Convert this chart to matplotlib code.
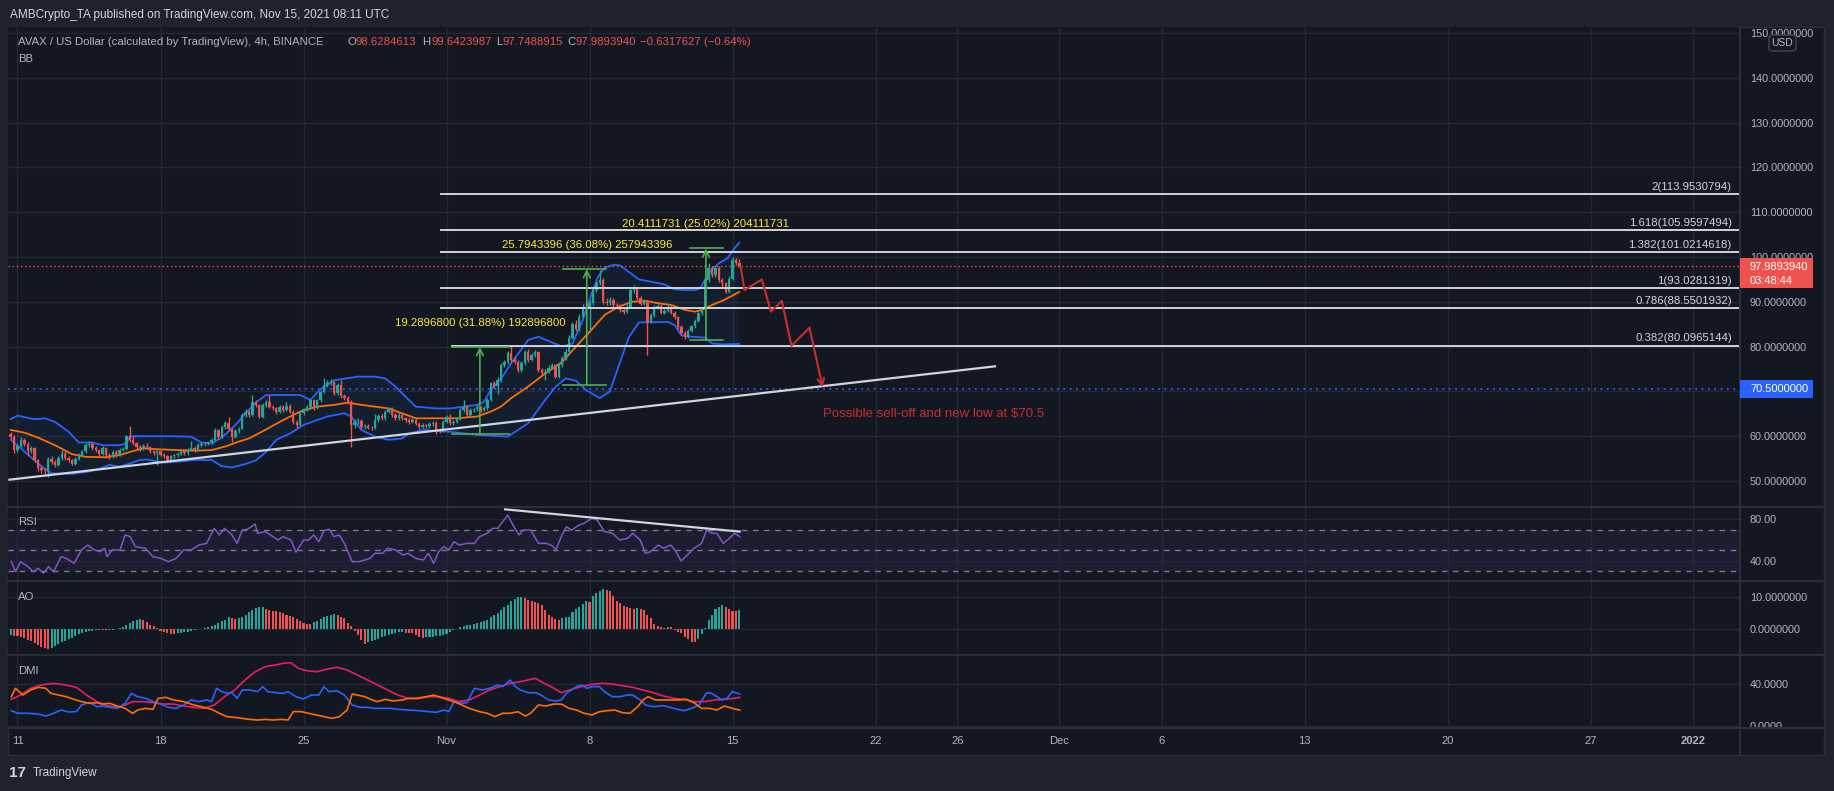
import matplotlib
matplotlib.use('Agg')
import matplotlib.pyplot as plt
import matplotlib.dates as mdates
from matplotlib.patches import Rectangle, FancyBboxPatch
from matplotlib.lines import Line2D
import numpy as np
import pandas as pd

plt.rcParams['font.family'] = ['Liberation Sans', 'DejaVu Sans']

W, H = 1834, 791
BG = '#131722'
FRAME = '#1e222d'
GRID = '#242833'
SEP = '#2a2e39'
TXT = '#b2b5be'
UP = '#26a69a'
DN = '#ef5350'

# AVAX / USD 4h candles, first bar opens 2021-10-10 16:00 UTC (open = previous close)
first_bar = '2021-10-10 16:00'
first_open = 60.5
close = [59.9, 57.0, 57.8, 59.2, 58.3, 56.6, 57.3, 54.7, 52.8, 52.5,
         52.2, 55.0, 54.3, 53.6, 55.1, 56.1, 55.2, 54.6, 53.9, 54.9,
         55.9, 56.6, 58.0, 58.3, 57.4, 56.9, 56.0, 57.3, 55.8, 55.4,
         56.5, 55.8, 56.9, 57.2, 60.0, 59.2, 58.4, 57.6, 57.2, 57.9,
         57.5, 56.6, 56.2, 56.6, 55.9, 55.5, 54.7, 55.5, 55.7, 56.1,
         56.6, 56.2, 57.0, 57.3, 56.9, 58.0, 58.2, 58.3, 58.6, 59.1,
         61.4, 59.8, 62.0, 62.9, 61.5, 59.9, 61.2, 61.7, 64.7, 65.5,
         64.8, 67.7, 67.0, 64.4, 66.9, 67.6, 66.6, 66.2, 65.5, 66.5,
         65.9, 66.8, 65.5, 63.2, 62.5, 65.1, 66.0, 66.6, 68.0, 66.3,
         68.0, 69.9, 71.4, 71.9, 72.0, 69.6, 71.5, 69.0, 68.5, 67.7,
         62.5, 63.2, 63.5, 62.0, 62.3, 61.9, 61.8, 63.6, 64.5, 64.0,
         65.5, 66.2, 64.8, 64.0, 64.8, 64.0, 63.6, 63.2, 63.6, 62.8,
         62.1, 62.5, 62.2, 62.7, 63.0, 61.4, 61.2, 63.2, 64.4, 62.9,
         63.2, 64.0, 65.8, 66.6, 64.8, 65.8, 66.0, 66.5, 65.9, 66.2,
         68.1, 71.8, 71.1, 72.5, 75.9, 76.6, 78.5, 77.0, 76.6, 74.8,
         76.3, 78.8, 77.0, 78.1, 78.8, 74.8, 74.2, 74.4, 75.3, 75.8,
         73.3, 75.9, 77.4, 78.9, 82.0, 85.0, 83.9, 86.7, 88.9, 88.5,
         89.7, 92.6, 94.1, 94.9, 90.0, 89.7, 90.5, 89.3, 89.0, 88.2,
         87.8, 88.9, 92.6, 93.0, 90.8, 89.6, 90.1, 85.6, 87.0, 88.9,
         89.0, 87.6, 88.0, 88.9, 87.6, 86.5, 84.4, 83.0, 82.2, 83.5,
         84.5, 85.8, 87.4, 88.5, 94.9, 97.5, 96.0, 97.5, 94.9, 94.1,
         92.3, 95.2, 99.3, 98.6284613, 97.989394]
high = [61.0, 60.3, 58.3, 59.9, 59.6, 58.6, 57.9, 57.5, 55.0, 53.4,
        53.0, 55.4, 55.5, 54.8, 55.6, 56.9, 56.8, 55.6, 55.0, 55.3,
        56.3, 57.0, 58.4, 59.0, 58.7, 57.8, 57.2, 57.8, 57.6, 56.3,
        57.0, 56.9, 57.3, 57.6, 60.3, 62.2, 60.0, 58.8, 58.0, 58.3,
        58.4, 57.8, 57.0, 57.0, 56.9, 56.3, 55.8, 55.9, 56.1, 56.5,
        57.0, 57.0, 57.4, 58.9, 57.8, 58.4, 58.6, 58.7, 59.0, 59.5,
        61.8, 61.7, 62.4, 63.4, 64.3, 61.8, 61.6, 62.1, 65.2, 66.0,
        65.9, 69.3, 68.0, 67.3, 67.4, 68.1, 69.2, 67.0, 66.6, 66.9,
        66.9, 67.7, 67.1, 65.8, 63.6, 65.5, 66.4, 67.0, 68.4, 68.3,
        68.4, 70.3, 73.1, 72.6, 72.8, 72.4, 71.9, 72.5, 69.4, 68.9,
        68.0, 63.8, 64.1, 63.8, 62.8, 62.7, 62.3, 64.9, 64.9, 64.9,
        65.9, 66.6, 66.5, 65.2, 65.3, 65.1, 64.4, 64.0, 64.0, 64.0,
        63.1, 62.9, 62.8, 63.1, 63.4, 63.3, 61.8, 63.6, 64.8, 64.9,
        63.6, 64.4, 66.2, 68.0, 67.0, 66.2, 66.4, 66.9, 66.8, 66.7,
        68.5, 72.2, 72.3, 73.3, 76.3, 77.1, 79.0, 80.1, 77.6, 77.0,
        76.8, 79.3, 79.5, 78.6, 79.2, 79.1, 75.3, 74.9, 75.8, 76.3,
        76.1, 76.3, 77.9, 79.4, 82.5, 85.5, 85.9, 87.3, 89.5, 89.9,
        90.4, 93.2, 94.7, 97.1, 95.3, 90.9, 91.0, 90.9, 89.8, 89.4,
        88.7, 89.4, 93.1, 93.8, 93.3, 91.2, 90.6, 90.4, 87.5, 89.3,
        89.6, 89.4, 88.5, 89.4, 89.2, 88.0, 86.9, 84.8, 83.4, 83.9,
        84.9, 86.2, 87.8, 88.9, 95.4, 98.6, 97.9, 98.0, 97.9, 95.3,
        94.5, 95.7, 100.1, 99.8, 99.6423987]
low = [59.4, 56.2, 56.5, 57.5, 57.9, 55.8, 56.3, 54.3, 52.2, 51.8,
       51.6, 51.0, 53.8, 53.2, 53.3, 54.8, 54.7, 54.2, 53.5, 53.6,
       54.6, 55.6, 56.3, 57.7, 57.0, 56.4, 55.6, 55.7, 55.2, 54.9,
       55.1, 55.4, 55.5, 56.6, 57.0, 58.8, 58.0, 57.2, 56.8, 56.9,
       57.1, 56.2, 55.8, 53.6, 55.5, 55.1, 54.3, 54.4, 55.2, 55.4,
       55.8, 55.9, 55.9, 56.7, 56.5, 56.6, 57.6, 57.9, 58.0, 58.3,
       58.9, 59.4, 59.6, 61.7, 61.1, 58.8, 59.5, 60.8, 61.5, 64.3,
       64.3, 64.5, 66.6, 64.0, 64.1, 66.5, 66.2, 65.8, 65.0, 65.1,
       65.5, 65.6, 65.1, 62.8, 61.9, 62.2, 64.8, 65.7, 66.3, 65.9,
       66.0, 67.7, 69.6, 71.0, 71.5, 69.2, 69.3, 68.6, 68.0, 67.2,
       57.7, 61.9, 62.8, 61.6, 61.7, 61.5, 61.3, 61.5, 63.2, 63.6,
       63.7, 65.1, 64.4, 63.6, 63.7, 63.6, 63.2, 62.8, 62.9, 62.4,
       61.7, 61.8, 61.9, 61.9, 62.3, 60.6, 60.8, 60.9, 62.9, 62.5,
       62.5, 62.9, 63.7, 65.4, 64.4, 64.5, 65.4, 65.7, 65.5, 65.6,
       65.9, 67.8, 70.7, 69.5, 72.2, 75.5, 76.2, 76.6, 76.1, 74.3,
       74.4, 76.0, 76.6, 76.7, 77.7, 74.4, 73.7, 72.5, 74.0, 74.9,
       72.9, 73.0, 75.5, 77.0, 78.6, 81.7, 83.4, 83.5, 86.3, 88.0,
       83.7, 89.3, 92.2, 93.7, 89.6, 89.2, 89.3, 88.9, 88.5, 87.8,
       87.3, 87.5, 88.6, 92.0, 90.4, 89.2, 89.2, 78.1, 85.2, 86.7,
       88.4, 87.2, 87.2, 87.7, 87.2, 86.1, 84.0, 82.5, 81.8, 81.9,
       83.2, 84.2, 85.5, 87.1, 88.2, 94.5, 95.6, 95.6, 94.5, 93.0,
       91.9, 92.0, 94.9, 98.2, 97.7488915]
last_ohlc = [98.6284613, 99.6423987, 97.7488915, 97.9893940]
change, change_pct = -0.6317627, -0.64
countdown = '03:48:44'

# Bollinger bands (bar index, value)
bb_up_bar = [0, 2, 7, 10, 13, 17, 20, 24, 27, 32, 34, 35, 38, 47, 53, 56, 59, 62, 66, 69,
             72, 75, 85, 88, 91, 95, 102, 107, 110, 113, 116, 119, 125, 129, 133, 137, 139, 141, 144, 147,
             152, 155, 162, 165, 168, 171, 172.5, 174.5, 177.5, 179, 181.5, 184.5, 188, 192, 195, 198, 201, 202.5, 205, 208,
             210.5, 212.5, 214]
bb_up = [63.8, 64.6, 63.8, 64.0, 63.2, 61.0, 58.6, 58.6, 58.0, 58.0, 58.4, 60.0, 60.0, 60.0, 59.9, 58.6, 58.4, 59.7, 62.5, 65.1,
         67.5, 69.2, 69.2, 68.1, 70.5, 72.5, 73.3, 73.3, 72.9, 71.1, 68.8, 66.6, 66.2, 66.2, 66.6, 67.0, 67.7, 70.3, 72.8, 76.3,
         81.5, 82.2, 80.0, 80.7, 85.9, 92.6, 95.6, 97.7, 98.3, 98.1, 96.7, 95.0, 94.5, 93.9, 92.8, 92.6, 92.6, 93.0, 96.4, 98.6,
         99.7, 101.9, 103.2]
bb_lo_bar = [0, 3, 8, 12, 18, 23, 27, 29, 32, 35, 38, 40, 42, 45, 49, 54, 59, 62, 65, 69,
             72, 75, 78, 82, 86, 90, 93, 98, 100, 103, 107, 111, 115, 117, 121, 129, 137, 146, 152, 157,
             160, 163, 166, 169, 173, 176, 178.5, 181.5, 184.5, 193, 195, 197, 200, 204, 206, 209, 214]
bb_lo = [59.2, 57.3, 53.9, 51.7, 51.6, 52.1, 53.0, 53.6, 53.2, 53.9, 54.7, 54.8, 54.5, 54.1, 54.3, 54.7, 54.7, 53.3, 53.0, 53.8,
         54.6, 56.5, 59.2, 60.6, 62.5, 63.6, 64.4, 65.1, 64.4, 61.4, 59.9, 59.2, 59.5, 60.6, 61.4, 61.0, 60.3, 59.9, 62.9, 68.1,
         71.0, 72.9, 72.4, 70.3, 68.5, 70.0, 75.5, 82.0, 85.4, 85.5, 84.8, 82.5, 82.2, 82.0, 80.7, 80.5, 80.6]
bb_mid_bar = [0, 4, 8, 13, 18, 22, 28, 32, 36, 39, 43, 49, 55, 59, 63, 67, 70, 72, 75, 80,
              85, 90, 95, 99, 103, 107, 111, 115, 119, 125, 131, 137, 141, 144, 147, 152, 157, 162, 166.5, 170.5,
              174.5, 178.5, 182.5, 186.5, 190, 194, 198, 201, 203, 206, 209.5, 214]
bb_mid = [61.4, 60.8, 59.7, 58.0, 56.0, 55.4, 55.3, 55.8, 56.7, 57.3, 57.1, 56.9, 56.8, 56.9, 57.7, 58.8, 59.5, 60.3, 61.5, 63.6,
          65.5, 66.6, 67.0, 67.5, 67.0, 66.6, 66.2, 65.1, 64.0, 64.0, 64.0, 64.4, 65.5, 66.6, 68.5, 71.1, 74.0, 76.6, 80.4, 83.7,
          87.1, 88.9, 90.0, 90.2, 89.7, 89.3, 88.2, 87.8, 88.2, 89.3, 90.4, 92.2]

# Fibonacci extension levels
fib_ratio = ['2', '1.618', '1.382', '1', '0.786', '0.382']
fib_price = [113.9530794, 105.9597494, 101.0214618, 93.0281319, 88.5501932, 80.0965144]
fib_start = [126.4, 126.4, 126.4, 126.4, 126.4, 129.5]

# price range measurements
meas_bar = [137.8, 169.2, 204.2]
meas_left = [129.5, 162.2, 199.5]
meas_right = [146.3, 174.8, 209.2]
meas_low = [60.6, 71.5, 81.5]
meas_change = [19.28968, 25.7943396, 20.4111731]
meas_pct = [31.88, 36.08, 25.02]
meas_label_y = [85.3, 102.7, 107.3]

# drawn projection
proj_bar = [214.4, 215.5, 220.6, 223.3, 226.5, 229.3, 234.6, 238.5]
proj_price = [97.8, 92.6, 95.0, 87.8, 90.2, 80.2, 84.2, 70.9]
support = 70.5
trend_bar = [-0.35, 289.1]
trend_price = [50.3, 75.6]

# RSI
rsi_bar = [0.2, 1.4, 2.9, 5.1, 6.6, 8.1, 9.6, 11.1, 12.6, 14.8,
           16.3, 18.6, 20.8, 22.6, 24.6, 26.1, 27.6, 28.3, 29.8, 32.1,
           33.6, 35.1, 36.6, 39.6, 41.8, 44.1, 46.3, 48.6, 50.8, 53.0,
           55.3, 57.5, 59.8, 61.3, 62.8, 65.0, 66.5, 68.0, 69.5, 71.8,
           72.5, 74.8, 78.5, 80.0, 82.3, 83.8, 86.0, 87.5, 89.0, 90.5,
           92.0, 93.5, 95.0, 96.5, 98.0, 100.3, 102.5, 104.0, 105.5, 107.0,
           109.2, 110.7, 113.0, 115.2, 116.7, 119.0, 121.2, 122.7, 124.2, 125.7,
           127.2, 128.7, 130.2, 131.7, 134.0, 136.2, 137.7, 140.0, 141.5, 143.0,
           144.5, 146.0, 147.5, 149.3, 150.5, 152.7, 155.0, 157.2, 158.7, 160.2,
           161.7, 163.2, 164.7, 167.0, 168.4, 170.7, 172.2, 174.4, 176.7, 178.9,
           181.2, 182.7, 184.9, 186.4, 187.9, 190.2, 191.7, 193.9, 195.4, 196.9,
           199.2, 200.7, 202.9, 204.4, 205.9, 207.4, 209.3, 211.1, 212.6, 214.1]
rsi_val = [39.4, 29.8, 39.4, 34.6, 29.8, 33.0, 28.3, 34.6, 29.8, 44.1,
           42.5, 37.8, 50.5, 55.2, 50.5, 48.9, 52.1, 44.1, 50.5, 50.5,
           64.8, 63.2, 53.7, 52.1, 44.1, 42.5, 39.4, 42.5, 50.5, 50.5,
           55.2, 56.8, 71.1, 64.8, 71.1, 64.8, 56.8, 69.5, 70.2, 75.2,
           66.4, 68.0, 60.0, 63.2, 60.0, 48.3, 60.0, 60.0, 64.8, 58.4,
           68.9, 70.2, 63.2, 64.8, 56.8, 39.4, 39.4, 41.0, 42.5, 47.3,
           47.3, 52.1, 50.5, 45.7, 47.3, 42.5, 41.0, 47.3, 37.8, 48.9,
           53.7, 50.5, 58.4, 55.2, 56.8, 56.8, 63.2, 66.4, 71.1, 71.1,
           77.5, 83.8, 74.3, 64.8, 69.5, 69.5, 56.8, 56.8, 55.2, 51.1,
           63.2, 72.7, 69.5, 74.3, 75.9, 80.6, 79.1, 68.0, 66.4, 60.0,
           61.6, 66.4, 60.0, 47.3, 48.9, 55.2, 52.1, 55.2, 48.9, 40.0,
           47.3, 52.1, 56.8, 69.5, 66.4, 66.4, 56.8, 61.6, 66.4, 63.2]
rsi_trend_bar = [145.2, 214.1]
rsi_trend_val = [89.2, 68.0]

# Awesome Oscillator, one value per candle
ao = [-1.9, -2.1, -2.3, -2.5, -2.9, -3.3, -3.6, -4.3, -5.0, -5.6,
      -5.9, -6.1, -5.8, -5.3, -4.8, -4.2, -3.7, -3.2, -2.7, -2.2,
      -1.7, -1.3, -1.0, -0.7, -0.5, -0.4, -0.3, -0.35, -0.4, -0.3,
      -0.2, 0.0, 0.2, 0.6, 1.2, 1.8, 2.4, 2.8, 3.0, 2.8,
      2.3, 1.4, 0.9, 0.2, -0.5, -1.0, -1.3, -1.5, -1.6, -1.4,
      -1.2, -1.0, -0.8, -0.6, -0.4, -0.1, 0.1, 0.3, 0.6, 1.0,
      1.4, 1.9, 2.4, 2.9, 3.6, 3.4, 3.2, 3.5, 3.7, 4.4,
      5.2, 5.9, 6.6, 6.8, 6.9, 6.3, 6.0, 5.7, 5.5, 5.2,
      4.9, 4.5, 4.1, 3.7, 3.1, 2.4, 1.9, 1.7, 1.6, 2.1,
      2.6, 3.1, 3.6, 4.0, 4.4, 4.7, 4.4, 3.9, 3.3, 2.0,
      0.8, -0.5, -2.0, -3.4, -4.7, -4.1, -3.7, -3.4, -3.0, -2.5,
      -2.2, -1.9, -1.6, -1.3, -1.0, -0.85, -1.1, -1.2, -1.4, -2.0,
      -2.4, -2.7, -2.6, -2.5, -2.4, -2.3, -2.1, -1.9, -1.5, -1.0,
      -0.4, 0.0, 0.5, 0.9, 1.2, 1.4, 1.6, 1.8, 2.1, 2.5,
      2.8, 3.6, 4.4, 4.9, 6.0, 6.9, 7.5, 8.6, 9.4, 9.9,
      10.0, 9.6, 9.1, 8.7, 8.4, 8.0, 7.4, 6.0, 4.4, 3.6,
      3.1, 2.8, 3.3, 3.6, 3.9, 5.4, 6.3, 7.0, 7.8, 8.6,
      8.4, 10.3, 11.3, 11.9, 12.4, 12.3, 11.9, 10.3, 8.9, 8.2,
      7.2, 6.8, 6.5, 6.4, 6.45, 6.4, 6.0, 4.5, 3.3, 1.5,
      0.9, 0.7, 0.4, 0.7, 0.5, -0.2, -0.9, -1.4, -2.4, -3.2,
      -4.0, -4.2, -3.1, -1.5, 0.2, 2.7, 4.4, 6.4, 7.0, 7.4,
      6.9, 6.2, 5.7, 5.6, 5.9]

# DMI
adx_bar = [0.2, 2.9, 5.9, 8.9, 12.6, 16.3, 19.3, 22.3, 25.3, 28.3,
           31.3, 33.6, 35.8, 38.8, 41.8, 44.8, 47.8, 50.8, 53.8, 56.8,
           59.8, 62.8, 65.8, 68.8, 71.8, 74.8, 77.8, 80.0, 82.3, 84.5,
           86.8, 89.8, 92.8, 95.8, 98.8, 101.8, 104.8, 107.8, 110.7, 113.7,
           116.7, 119.7, 122.7, 125.7, 128.7, 131.7, 134.7, 137.7, 140.7, 143.7,
           146.7, 149.7, 152.7, 154.2, 155.7, 158.7, 161.7, 164.7, 167.7, 170.7,
           173.7, 176.7, 179.7, 182.7, 185.7, 188.7, 191.7, 194.7, 197.7, 200.7,
           203.7, 206.7, 209.6, 212.6, 214.1]
adx = [25.4, 29.5, 35.9, 39.0, 40.6, 39.0, 36.8, 29.5, 23.2, 19.4,
       17.8, 20.0, 23.2, 23.2, 22.2, 20.9, 20.9, 19.0, 17.8, 16.8,
       20.0, 27.9, 34.3, 43.8, 51.7, 56.5, 58.1, 59.7, 60.3, 54.9,
       52.7, 51.7, 54.0, 55.9, 53.3, 48.6, 43.8, 39.0, 34.3, 29.5,
       26.3, 26.0, 27.9, 27.9, 26.3, 23.2, 24.8, 29.5, 34.3, 37.5,
       40.6, 42.2, 44.4, 45.4, 42.2, 37.5, 31.7, 34.9, 37.5, 39.7,
       40.6, 40.0, 38.4, 36.8, 34.3, 31.7, 28.6, 26.3, 25.4, 23.2,
       23.2, 24.8, 25.4, 26.3, 27.3]
pdi_bar = [0.2, 2.1, 5.1, 8.1, 10.3, 12.6, 14.8, 17.1, 19.3, 20.8,
           23.1, 25.3, 26.8, 29.1, 31.3, 33.6, 35.5, 37.3, 39.6, 41.8,
           44.1, 46.3, 48.6, 50.8, 53.0, 55.3, 57.5, 59.0, 60.5, 62.0,
           63.5, 65.0, 66.5, 68.0, 70.3, 72.5, 74.0, 75.5, 77.8, 80.0,
           81.5, 83.8, 86.0, 88.3, 90.5, 92.0, 93.5, 95.8, 98.0, 100.3,
           102.5, 104.8, 107.0, 109.2, 111.5, 113.7, 116.7, 119.7, 122.7, 125.0,
           127.2, 128.7, 130.2, 132.5, 134.0, 136.2, 138.5, 140.7, 143.0, 144.5,
           146.7, 148.2, 149.7, 152.0, 154.2, 155.7, 158.0, 160.2, 161.7, 163.2,
           164.7, 166.2, 167.7, 169.2, 170.7, 172.9, 174.4, 176.7, 178.9, 181.2,
           182.7, 184.9, 186.4, 188.7, 191.7, 194.7, 197.7, 199.9, 202.2, 204.4,
           205.9, 207.4, 208.9, 210.4, 211.9, 214.1]
pdi = [14.6, 12.1, 12.1, 11.4, 9.5, 12.1, 15.2, 13.3, 13.7, 20.0,
       22.5, 18.4, 19.0, 17.8, 16.8, 21.6, 31.1, 27.9, 26.3, 23.2,
       20.9, 17.8, 16.8, 20.0, 24.8, 23.2, 24.8, 23.2, 35.9, 32.7,
       31.1, 31.7, 26.3, 34.3, 34.3, 32.7, 37.5, 32.7, 31.7, 31.1,
       32.7, 27.9, 25.7, 29.5, 29.5, 37.5, 32.7, 33.6, 29.5, 20.0,
       17.8, 17.8, 16.8, 16.8, 16.8, 15.9, 15.2, 14.6, 13.7, 13.0,
       15.2, 13.7, 23.2, 21.6, 22.2, 35.9, 34.3, 35.9, 39.0, 37.5,
       43.8, 37.5, 34.3, 31.7, 31.7, 29.5, 24.8, 23.8, 24.8, 31.1,
       34.3, 37.5, 39.0, 35.9, 37.5, 37.5, 32.7, 27.9, 27.9, 29.5,
       29.5, 24.8, 20.0, 18.4, 19.4, 16.8, 14.6, 16.8, 20.0, 31.7,
       31.1, 27.9, 24.8, 26.3, 32.7, 30.5]
mdi_bar = [0.2, 1.4, 3.6, 5.9, 8.1, 10.3, 11.8, 14.1, 16.3, 18.6,
           20.8, 23.1, 25.3, 26.8, 29.1, 31.3, 33.6, 35.8, 37.3, 39.6,
           41.8, 43.3, 45.6, 47.8, 50.8, 53.8, 56.8, 59.0, 61.3, 63.5,
           65.8, 68.0, 70.3, 72.5, 74.8, 77.0, 79.3, 81.5, 83.0, 85.3,
           87.5, 89.8, 92.0, 94.3, 96.5, 98.8, 100.3, 101.8, 104.0, 106.2,
           107.7, 110.0, 112.2, 115.2, 116.7, 119.0, 122.0, 124.2, 125.7, 128.0,
           130.2, 132.5, 134.7, 137.7, 140.0, 142.2, 144.5, 146.7, 149.0, 151.2,
           152.7, 155.0, 157.2, 159.5, 161.7, 164.0, 166.2, 168.4, 170.7, 172.9,
           175.2, 177.4, 179.7, 181.9, 184.2, 185.7, 187.2, 189.4, 191.7, 193.9,
           196.2, 198.4, 200.7, 202.9, 205.2, 207.4, 209.6, 211.9, 214.1]
mdi = [27.9, 35.9, 29.5, 34.3, 36.8, 35.9, 31.1, 29.5, 27.9, 25.4,
       23.2, 21.6, 22.2, 20.9, 21.6, 19.0, 16.8, 12.1, 15.2, 16.8,
       15.9, 26.3, 27.3, 24.8, 23.2, 20.0, 17.8, 15.9, 12.1, 8.9,
       8.2, 7.3, 6.3, 5.7, 6.3, 5.7, 6.3, 5.7, 13.7, 13.7,
       12.1, 10.5, 8.9, 7.3, 8.9, 15.2, 30.5, 29.5, 27.9, 24.8,
       23.2, 25.4, 23.8, 24.8, 26.3, 26.3, 27.9, 29.5, 27.9, 25.4,
       23.2, 20.0, 16.8, 13.6, 12.1, 8.9, 12.1, 12.1, 13.6, 9.5,
       12.1, 20.0, 19.0, 20.9, 20.9, 16.8, 15.2, 12.1, 10.5, 13.6,
       14.6, 15.2, 12.7, 12.1, 18.4, 24.8, 27.9, 24.8, 24.8, 24.8,
       24.8, 25.4, 22.2, 16.8, 16.8, 15.2, 19.0, 16.8, 15.2]

tick_days = ['2021-10-11', '2021-10-18', '2021-10-25', '2021-11-01', '2021-11-08', '2021-11-15',
             '2021-11-22', '2021-11-26', '2021-12-01', '2021-12-06', '2021-12-13', '2021-12-20',
             '2021-12-27', '2022-01-01']
tick_labels = ['11', '18', '25', 'Nov', '8', '15', '22', '26', 'Dec', '6', '13', '20', '27', '2022']

# ---------------------------------------------------------------------------
t0 = mdates.date2num(pd.Timestamp(first_bar).to_pydatetime())


def bx(b):
    # bar index -> matplotlib date number (4h bars)
    return t0 + np.asarray(b, dtype=float) / 6.0


def box(x0, y0, x1, y1):
    return [x0 / W, 1 - y1 / H, (x1 - x0) / W, (y1 - y0) / H]


fig = plt.figure(figsize=(W / 100, H / 100), dpi=100, facecolor=FRAME)


def ftext(x, y, s, **kw):
    kw.setdefault('va', 'center')
    kw.setdefault('color', TXT)
    kw.setdefault('fontsize', 8.2)
    fig.text(x / W, 1 - y / H, s, **kw)


def frect(x0, y0, x1, y1, **kw):
    fig.add_artist(Rectangle((x0 / W, 1 - y1 / H), (x1 - x0) / W, (y1 - y0) / H,
                             transform=fig.transFigure, **kw))


def fline(xs, ys, **kw):
    fig.add_artist(Line2D([x / W for x in xs], [1 - y / H for y in ys],
                          transform=fig.transFigure, **kw))


# chart panel background
frect(8, 27, 1824, 755, facecolor=BG, edgecolor=SEP, lw=1, zorder=-5)

ax = fig.add_axes(box(8, 27, 1740, 507))
ax_rsi = fig.add_axes(box(8, 507, 1740, 581), sharex=ax)
ax_ao = fig.add_axes(box(8, 581, 1740, 655), sharex=ax)
ax_dmi = fig.add_axes(box(8, 655, 1740, 728), sharex=ax)

ticks_x = mdates.date2num(pd.to_datetime(tick_days).to_pydatetime())
for a in (ax, ax_rsi, ax_ao, ax_dmi):
    a.set_facecolor(BG)
    for s in a.spines.values():
        s.set_visible(False)
    a.yaxis.tick_right()
    a.tick_params(axis='y', length=0, pad=7, labelsize=7.8, labelcolor=TXT)
    a.tick_params(axis='x', length=0, labelbottom=False)
    a.set_xticks(ticks_x)
    a.grid(True, color=GRID, lw=1, zorder=0)
    a.set_axisbelow(True)

ax.set_xlim(bx(-0.79), bx(507.9))

# ---- price pane ----
ax.set_ylim(44.2, 151.34)
pt = np.arange(50, 151, 10)
ax.set_yticks(pt)
ax.set_yticklabels([f'{v:.7f}' for v in pt])

xb = bx(np.arange(len(close)))
c = np.array(close)
o = np.r_[first_open, c[:-1]]
hi = np.maximum(np.array(high), np.maximum(o, c))
lo = np.minimum(np.array(low), np.minimum(o, c))
col = np.where(c >= o, UP, DN)

# Bollinger bands
ax.fill(np.r_[bx(bb_up_bar), bx(bb_lo_bar)[::-1]], np.r_[bb_up, bb_lo[::-1]],
        color='#2196f3', alpha=0.06, lw=0, zorder=1)
ax.plot(bx(bb_up_bar), bb_up, color='#2962ff', lw=1.3, zorder=2)
ax.plot(bx(bb_lo_bar), bb_lo, color='#2962ff', lw=1.3, zorder=2)
ax.plot(bx(bb_mid_bar), bb_mid, color='#ff6d00', lw=1.3, zorder=2)

ax.vlines(xb, lo, hi, colors=col, lw=1, zorder=3)
ax.bar(xb, np.maximum(np.abs(c - o), 0.1), bottom=np.minimum(o, c), width=0.7 / 6,
       color=col, lw=0, zorder=3.5)

# horizontal price markers
ax.axhline(last_ohlc[3], color=DN, ls=(0, (1, 2)), lw=1, zorder=2.5)
ax.axhline(support, color='#2962ff', ls=(0, (1, 2.5)), lw=1.3, zorder=2.5)

# trend line
ax.plot(bx(trend_bar), trend_price, color='#d1d4dc', lw=1.6, zorder=4)

# fib extension
for r, p, s in zip(fib_ratio, fib_price, fib_start):
    ax.plot(bx([s, 507.9]), [p, p], color='#d1d4dc', lw=1.4, zorder=4)
    ax.text(bx(505.5), p + 0.6, f'{r}({p:.7f})', ha='right', va='bottom',
            color='#d1d4dc', fontsize=8.2, zorder=5)

# price range measurements
GREEN = '#4caf50'
for m, l, r, base, d, pc, ty in zip(meas_bar, meas_left, meas_right, meas_low,
                                    meas_change, meas_pct, meas_label_y):
    top = base + d
    ax.plot(bx([l, r]), [base, base], color=GREEN, lw=1.2, zorder=4.5)
    ax.plot(bx([l, r]), [top, top], color=GREEN, lw=1.2, zorder=4.5)
    ax.annotate('', xy=(bx(m), top), xytext=(bx(m), base), zorder=4.5,
                arrowprops=dict(arrowstyle='->', color=GREEN, lw=1.2, mutation_scale=12,
                                shrinkA=0, shrinkB=0))
    txt = f'{d:.7f}'
    ax.text(bx(m), ty, f'{txt} ({pc:.2f}%) {txt.replace(".", "")}',
            ha='center', va='center', color='#ffeb3b', fontsize=8.2, zorder=5)

# projected path
RED2 = '#c62f2f'
ax.plot(bx(proj_bar[:-1]), proj_price[:-1], color=RED2, lw=1.5, zorder=5)
ax.annotate('', xy=(bx(proj_bar[-1]), proj_price[-1]), xytext=(bx(proj_bar[-2]), proj_price[-2]),
            arrowprops=dict(arrowstyle='->', color=RED2, lw=1.5, mutation_scale=12,
                            shrinkA=0, shrinkB=0), zorder=5)
ax.text(bx(proj_bar[-1]), 64.96, 'Possible sell-off and new low at $70.5', ha='left', va='center',
        color=RED2, fontsize=9.5, zorder=5)

# ---- RSI ----
ax_rsi.set_ylim(20.95, 91.43)
ax_rsi.set_yticks([40, 80])
ax_rsi.set_yticklabels(['40.00', '80.00'])
ax_rsi.axhspan(30, 70, color='#7e57c2', alpha=0.1, lw=0, zorder=0.5)
for lv in (30, 50, 70):
    ax_rsi.axhline(lv, color='#787b86', ls=(0, (4, 4)), lw=1, zorder=1)
ax_rsi.plot(bx(rsi_bar), rsi_val, color='#7e57c2', lw=1.1, zorder=2)
ax_rsi.plot(bx(rsi_trend_bar), rsi_trend_val, color='#d1d4dc', lw=1.6, zorder=3)

# ---- AO ----
ax_ao.set_ylim(-8.125, 15.0)
ax_ao.set_yticks([0, 10])
ax_ao.set_yticklabels(['0.0000000', '10.0000000'])
aov = np.array(ao)
ao_col = np.where(np.r_[True, aov[1:] >= aov[:-1]], UP, DN)
ax_ao.bar(xb, aov, width=0.6 / 6, color=ao_col, lw=0, zorder=2)

# ---- DMI ----
ax_dmi.set_ylim(-1.9, 67.6)
ax_dmi.set_yticks([0, 40])
ax_dmi.set_yticklabels(['0.0000', '40.0000'])
ax_dmi.plot(bx(adx_bar), adx, color='#e91e63', lw=1.2, zorder=2)
ax_dmi.plot(bx(pdi_bar), pdi, color='#2962ff', lw=1.2, zorder=2)
ax_dmi.plot(bx(mdi_bar), mdi, color='#ff6d00', lw=1.2, zorder=2)
ax_dmi.tick_params(axis='x', labelbottom=True, labelsize=8, labelcolor=TXT, pad=6)
ax_dmi.set_xticklabels(tick_labels)
ax_dmi.get_xticklabels()[-1].set_fontweight('bold')

# pane separators
for y in (507, 581, 655, 728):
    fline([8, 1824], [y, y], color=SEP, lw=1.5)
fline([1740, 1740], [27, 755], color=SEP, lw=1.5)
# the axis strip below the DMI pane hides the lower half of the 0.0000 label, as in the original
frect(1741, 729, 1823, 754, facecolor=BG, edgecolor='none', zorder=2)

# right-axis price boxes
frect(1740, 258, 1813, 288, facecolor=DN, edgecolor='none', zorder=3)
ftext(1750, 266.5, f'{last_ohlc[3]:.7f}', color='white', fontsize=8, zorder=4)
ftext(1750, 281, countdown, color='white', fontsize=8, zorder=4)
frect(1740, 380, 1813, 398, facecolor='#2962ff', edgecolor='none', zorder=3)
ftext(1750, 389, f'{support:.7f}', color='white', fontsize=8, zorder=4)
fig.add_artist(FancyBboxPatch((1769 / W, 1 - 51 / H), 27 / W, 16 / H, boxstyle='round,pad=0,rounding_size=0.003',
                              transform=fig.transFigure, facecolor=BG, edgecolor='#434651', lw=1, zorder=3))
ftext(1782.5, 43, 'USD', ha='center', fontsize=7.5, zorder=4)

# header
ftext(10, 15, 'AMBCrypto_TA published on TradingView.com, Nov 15, 2021 08:11 UTC', color='#d1d4dc', fontsize=8.5)
ftext(18, 41.7, 'AVAX / US Dollar (calculated by TradingView), 4h, BINANCE')
parts = [(347, 'O', TXT), (355.6, f'{last_ohlc[0]:.7f}', DN), (422.4, 'H', TXT), (431, f'{last_ohlc[1]:.7f}', DN),
         (496, 'L', TXT), (502.6, f'{last_ohlc[2]:.7f}', DN), (567.3, 'C', TXT), (575, f'{last_ohlc[3]:.7f}', DN),
         (640.3, f'\u2212{abs(change):.7f} (\u2212{abs(change_pct):.2f}%)', DN)]
for x, s, cl in parts:
    ftext(x, 41.7, s, color=cl)
ftext(18, 59, 'BB')
ftext(18, 522, 'RSI')
ftext(18, 597, 'AO')
ftext(18, 671, 'DMI')

# footer
ftext(9, 773, '17', color='#d1d4dc', fontsize=11, fontweight='heavy')
ftext(33, 773, 'TradingView', color='#d1d4dc', fontsize=8.5)

fig.savefig('out.png', dpi=100, facecolor=fig.get_facecolor())
